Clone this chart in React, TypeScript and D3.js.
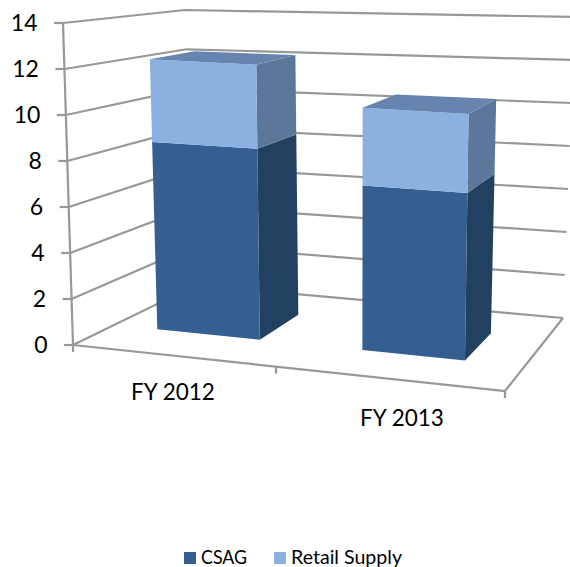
import React from "react";
import * as d3 from "d3";

const categories = ["FY 2012", "FY 2013"];
const csag = [8.5, 7.2];
const retail = [3.75, 3.4];
const valueTicks = [0, 2, 4, 6, 8, 10, 12, 14];
const legendLabels = ["CSAG", "Retail Supply"];

const FONT = "Lato, 'Open Sans', sans-serif";
const GRID = "#989898";
const colors = {
  csag: { front: "#355f91", side: "#213f61", top: "#2b4f78" },
  retail: { front: "#8bb1e0", side: "#5b7799", top: "#6585ae" },
};

type Pt = [number, number];
// plot-box corners: floor and ceiling, front and back
const floorFL: Pt = [73, 345], floorFR: Pt = [505, 391], floorBL: Pt = [196, 285], floorBR: Pt = [563, 318];
const ceilFL: Pt = [63, 23], ceilFR: Pt = [510, 48], ceilBL: Pt = [185, 10], ceilBR: Pt = [575, 17];

const mix = (a: Pt, b: Pt, t: number): Pt => [d3.interpolateNumber(a[0], b[0])(t), d3.interpolateNumber(a[1], b[1])(t)];
const vScale = d3.scaleLinear().domain([0, 14]).range([0, 1]);
const project = (u: number, d: number, v: number): Pt => {
  const base = mix(mix(floorFL, floorFR, u), mix(floorBL, floorBR, u), d);
  const top = mix(mix(ceilFL, ceilFR, u), mix(ceilBL, ceilBR, u), d);
  return mix(base, top, vScale(v));
};
const uBand = d3.scaleBand<string>().domain(categories).range([-0.02, 0.98]).paddingInner(0.5).paddingOuter(0.25);
const depth: [number, number] = [0.335, 0.72];
const poly = (pts: Pt[]) => d3.line()(pts) + "Z";

function Box({ u0, u1, v0, v1, c, showTop }: { u0: number; u1: number; v0: number; v1: number; c: { front: string; side: string; top: string }; showTop: boolean }) {
  const [d0, d1] = depth;
  return (
    <g>
      <path d={poly([project(u1, d0, v0), project(u1, d1, v0), project(u1, d1, v1), project(u1, d0, v1)])} fill={c.side} />
      <path d={poly([project(u0, d0, v0), project(u1, d0, v0), project(u1, d0, v1), project(u0, d0, v1)])} fill={c.front} />
      {showTop && <path d={poly([project(u0, d0, v1), project(u1, d0, v1), project(u1, d1, v1), project(u0, d1, v1)])} fill={c.top} />}
    </g>
  );
}

export default function App() {
  const legendX = [184, 274];
  return (
    <svg width={570} height={567} viewBox="0 0 570 567" style={{ position: "absolute", left: 0, top: 0, background: "#fff" }}>
      <defs>
        <filter id="soft" x="-5%" y="-5%" width="110%" height="110%">
          <feGaussianBlur stdDeviation="0.45" />
        </filter>
      </defs>
      <g filter="url(#soft)">
        <g stroke={GRID} strokeWidth={2.2} fill="none">
          {valueTicks.map((t) => (
            <g key={t}>
              <path d={d3.line()([project(0, 0, t), project(0, 1, t), project(1, 1, t)])!} />
              <line x1={project(0, 0, t)[0] - 9} y1={project(0, 0, t)[1]} x2={project(0, 0, t)[0]} y2={project(0, 0, t)[1]} />
            </g>
          ))}
          <path d={d3.line()([project(0, 0, 14), project(0, 0, 0)])!} />
          <path d={d3.line()([project(0, 0, 0), project(1, 0, 0), project(1, 1, 0)])!} />
          {[0, 0.47, 1].map((u) => {
            const p = project(u, 0, 0);
            return <line key={u} x1={p[0]} y1={p[1]} x2={p[0]} y2={p[1] + 7} />;
          })}
        </g>
        {categories.map((cat, i) => {
          const u0 = uBand(cat)!;
          const u1 = u0 + uBand.bandwidth();
          return (
            <g key={cat}>
              <Box u0={u0} u1={u1} v0={0} v1={csag[i]} c={colors.csag} showTop={false} />
              <Box u0={u0} u1={u1} v0={csag[i]} v1={csag[i] + retail[i]} c={colors.retail} showTop={true} />
            </g>
          );
        })}
      </g>
      <g fontFamily={FONT} fill="#000">
        {valueTicks.map((t) => {
          const p = project(0, 0, t);
          return (
            <text key={t} x={p[0] - 25.5} y={p[1] + 8} fontSize={23} textAnchor="end">
              {t}
            </text>
          );
        })}
        <text x={173} y={400} fontSize={22.5} textAnchor="middle">{categories[0]}</text>
        <text x={402} y={426} fontSize={22.5} textAnchor="middle">{categories[1]}</text>
        <rect x={legendX[0]} y={552} width={12} height={12} fill={colors.csag.front} />
        <text x={201} y={563.5} fontSize={19} textLength={46} lengthAdjust="spacingAndGlyphs">{legendLabels[0]}</text>
        <rect x={legendX[1]} y={552} width={12} height={12} fill={colors.retail.front} />
        <text x={291} y={563.5} fontSize={19} textLength={111} lengthAdjust="spacingAndGlyphs">{legendLabels[1]}</text>
      </g>
    </svg>
  );
}
